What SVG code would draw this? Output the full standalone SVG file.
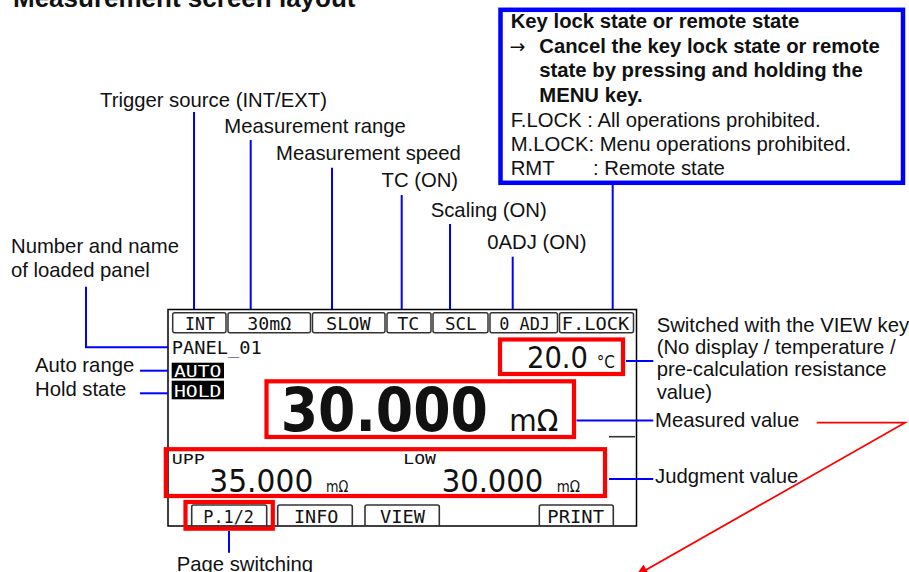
<svg xmlns="http://www.w3.org/2000/svg" width="909" height="572" viewBox="0 0 909 572">
<style>
.lbl{font-family:"Liberation Sans",Arial,sans-serif;font-size:20.3px;fill:#111}
.bold{font-weight:bold}
.title{font-family:"Liberation Sans",Arial,sans-serif;font-size:26px;font-weight:bold;fill:#111}
.lcd{font-family:"DejaVu Sans Mono","Liberation Mono",monospace;fill:#111}
.lcdb{font-family:"DejaVu Sans","Liberation Sans",sans-serif;font-weight:bold;fill:#111}
.lcdn{font-family:"DejaVu Sans","Liberation Sans",sans-serif;fill:#111}
.blue{stroke:#0000ff;stroke-width:2;fill:none}
.redbox{stroke:#ff0000;stroke-width:4.2;fill:none}
.tab{stroke:#333;stroke-width:1.5;fill:#fff}
.btab{stroke:#333;stroke-width:1.6;fill:none}
</style>
<defs>
<marker id="ah" viewBox="0 0 10 10" refX="9" refY="5" markerWidth="16" markerHeight="12" markerUnits="userSpaceOnUse" orient="auto">
<path d="M0,0 L10,5 L0,10 z" fill="#ff0000"/>
</marker>
</defs>
<rect width="909" height="572" fill="#fff"/>
<text class="title" x="13" y="7">Measurement screen layout</text>

<g id="keylock">
<rect x="500.5" y="9.8" width="402.5" height="173" fill="#fff" stroke="#0000ff" stroke-width="4.5"/>
<text class="lbl bold" x="510.7" y="28.3">Key lock state or remote state</text>
<text class="lbl bold" y="53"><tspan x="509.5" style="font-family:'DejaVu Sans',sans-serif;font-weight:normal" font-size="19">→</tspan><tspan x="539.3">Cancel the key lock state or remote</tspan></text>
<text class="lbl bold" x="539.3" y="77.3">state by pressing and holding the</text>
<text class="lbl bold" x="539.3" y="101.7">MENU key.</text>
<text class="lbl" x="510.7" y="126.5">F.LOCK : All operations prohibited.</text>
<text class="lbl" x="510.7" y="150.5">M.LOCK: Menu operations prohibited.</text>
<text class="lbl" y="175"><tspan x="510.7">RMT</tspan><tspan x="593">: Remote state</tspan></text>
</g>

<g id="labels">
<text class="lbl" x="100" y="106.5">Trigger source (INT/EXT)</text>
<text class="lbl" x="224.3" y="133.3">Measurement range</text>
<text class="lbl" x="276" y="160">Measurement speed</text>
<text class="lbl" x="381.5" y="187">TC (ON)</text>
<text class="lbl" x="430.7" y="216.7">Scaling (ON)</text>
<text class="lbl" x="487.3" y="249.3">0ADJ (ON)</text>
<text class="lbl" x="11" y="253">Number and name</text>
<text class="lbl" x="11" y="276.5">of loaded panel</text>
<text class="lbl" x="35" y="371.5">Auto range</text>
<text class="lbl" x="35" y="395.5">Hold state</text>
<text class="lbl" x="656.7" y="331.7">Switched with the VIEW key</text>
<text class="lbl" x="656.7" y="353.5">(No display / temperature /</text>
<text class="lbl" x="656.7" y="376">pre-calculation resistance</text>
<text class="lbl" x="656.7" y="399.3">value)</text>
<text class="lbl" x="655" y="426.5">Measured value</text>
<text class="lbl" x="655" y="483">Judgment value</text>
<text class="lbl" x="176.7" y="571">Page switching</text>
</g>

<g id="screen">
<rect x="168" y="309.5" width="468.5" height="216.5" fill="#fff" stroke="#000" stroke-width="1.5"/>
<rect class="tab" x="172.7" y="312.7" width="53.3" height="20" rx="2"/>
<rect class="tab" x="228" y="312.7" width="82.5" height="20" rx="2"/>
<rect class="tab" x="312.5" y="312.7" width="72.5" height="20" rx="2"/>
<rect class="tab" x="387" y="312.7" width="44" height="20" rx="2"/>
<rect class="tab" x="433" y="312.7" width="55" height="20" rx="2"/>
<rect class="tab" x="490" y="312.7" width="67.5" height="20" rx="2"/>
<rect class="tab" x="559.5" y="312.7" width="74" height="20" rx="2"/>
<text class="lcd" font-size="17" x="185" y="329.5" textLength="30" lengthAdjust="spacingAndGlyphs">INT</text>
<text class="lcd" font-size="17" x="247.3" y="329.5" textLength="44" lengthAdjust="spacingAndGlyphs">30mΩ</text>
<text class="lcd" font-size="17" x="326" y="329.5" textLength="44.7" lengthAdjust="spacingAndGlyphs">SLOW</text>
<text class="lcd" font-size="17" x="397.3" y="329.5" textLength="22" lengthAdjust="spacingAndGlyphs">TC</text>
<text class="lcd" font-size="17" x="445" y="329.5" textLength="31.7" lengthAdjust="spacingAndGlyphs">SCL</text>
<text class="lcd" font-size="17" x="499.3" y="329.5" textLength="50.7" lengthAdjust="spacingAndGlyphs">0 ADJ</text>
<text class="lcd" font-size="17" x="561.7" y="329.5" textLength="67.6" lengthAdjust="spacingAndGlyphs">F.LOCK</text>

<text class="lcd" font-size="18" x="171.7" y="354" textLength="90" lengthAdjust="spacingAndGlyphs">PANEL_01</text>
<rect x="171.7" y="362.7" width="52.3" height="15.6" fill="#000"/>
<text class="lcd" font-size="15.5" x="174" y="377" textLength="47.5" lengthAdjust="spacingAndGlyphs" style="fill:#fff">AUTO</text>
<rect x="171.7" y="380.7" width="52.3" height="18.6" fill="#000"/>
<text class="lcd" font-size="15.5" x="174" y="397" textLength="47.5" lengthAdjust="spacingAndGlyphs" style="fill:#fff">HOLD</text>

<text class="lcdn" font-size="31" x="527" y="368.3" textLength="61" lengthAdjust="spacingAndGlyphs">20.0</text>
<text class="lcdn" font-size="18" x="596.7" y="368" textLength="18.3" lengthAdjust="spacingAndGlyphs">°C</text>

<text class="lcdb" font-size="60" x="280.7" y="430.7" textLength="207.3" lengthAdjust="spacingAndGlyphs">30.000</text>
<text class="lcdn" font-size="30" x="509.3" y="430.7" textLength="49" lengthAdjust="spacingAndGlyphs">mΩ</text>

<line x1="609" y1="436.7" x2="635" y2="436.7" stroke="#333" stroke-width="1.6"/>

<text class="lcd" font-size="14.5" x="171.7" y="464" textLength="33" lengthAdjust="spacingAndGlyphs">UPP</text>
<text class="lcd" font-size="14.5" x="403.3" y="464" textLength="32.7" lengthAdjust="spacingAndGlyphs">LOW</text>
<text class="lcdn" font-size="32.5" x="209.3" y="491.7" textLength="104" lengthAdjust="spacingAndGlyphs">35.000</text>
<text class="lcdn" font-size="15" x="326" y="491.7" textLength="22.3" lengthAdjust="spacingAndGlyphs">mΩ</text>
<text class="lcdn" font-size="32.5" x="441.7" y="491.7" textLength="101.6" lengthAdjust="spacingAndGlyphs">30.000</text>
<text class="lcdn" font-size="15" x="556.7" y="491.7" textLength="23.3" lengthAdjust="spacingAndGlyphs">mΩ</text>

<path class="btab" d="M191.7,526 V507 Q191.7,505 193.7,505 H264.7 Q266.7,505 266.7,507 V526"/>
<path class="btab" d="M277.7,526 V507 Q277.7,505 279.7,505 H350.3 Q352.3,505 352.3,507 V526"/>
<path class="btab" d="M365,526 V507 Q365,505 367,505 H437.3 Q439.3,505 439.3,507 V526"/>
<path class="btab" d="M539.3,526 V507 Q539.3,505 541.3,505 H611.3 Q613.3,505 613.3,507 V526"/>
<text class="lcd" font-size="17" x="203.3" y="522.7" textLength="50.7" lengthAdjust="spacingAndGlyphs">P.1/2</text>
<text class="lcd" font-size="17" x="294" y="522.7" textLength="44.3" lengthAdjust="spacingAndGlyphs">INFO</text>
<text class="lcd" font-size="17" x="380" y="522.7" textLength="45" lengthAdjust="spacingAndGlyphs">VIEW</text>
<text class="lcd" font-size="17" x="547.3" y="522.7" textLength="56.7" lengthAdjust="spacingAndGlyphs">PRINT</text>
</g>

<g id="highlights">
<rect class="redbox" x="500" y="339.5" width="123" height="34.5"/>
<rect class="redbox" x="266.5" y="381.3" width="307.5" height="55.7"/>
<rect class="redbox" x="165.8" y="449.2" width="439.2" height="46.8"/>
<rect class="redbox" x="185.5" y="502" width="87.3" height="26.7"/>
</g>

<g id="connectors">
<line class="blue" x1="194" y1="112" x2="194" y2="309"/>
<line class="blue" x1="250.7" y1="140" x2="250.7" y2="309"/>
<line class="blue" x1="332" y1="167.7" x2="332" y2="309"/>
<line class="blue" x1="401.7" y1="195" x2="401.7" y2="309"/>
<line class="blue" x1="450" y1="224" x2="450" y2="309"/>
<line class="blue" x1="512.7" y1="256.7" x2="512.7" y2="309"/>
<line class="blue" x1="612.7" y1="185" x2="612.7" y2="309"/>
<polyline class="blue" points="86,286.7 86,347.3 168,347.3"/>
<line class="blue" x1="140" y1="370.7" x2="168" y2="370.7"/>
<line class="blue" x1="140" y1="393.3" x2="168" y2="393.3"/>
<line class="blue" x1="626" y1="361" x2="653.3" y2="361"/>
<line class="blue" x1="576.5" y1="420.5" x2="653.3" y2="420.5"/>
<line class="blue" x1="609" y1="479" x2="653.3" y2="479"/>
<line class="blue" x1="229" y1="531" x2="229" y2="552.7"/>
<polyline points="816.7,422.7 905,422.7 637,575" fill="none" stroke="#ff0000" stroke-width="1.8" marker-end="url(#ah)"/>
</g>
</svg>
